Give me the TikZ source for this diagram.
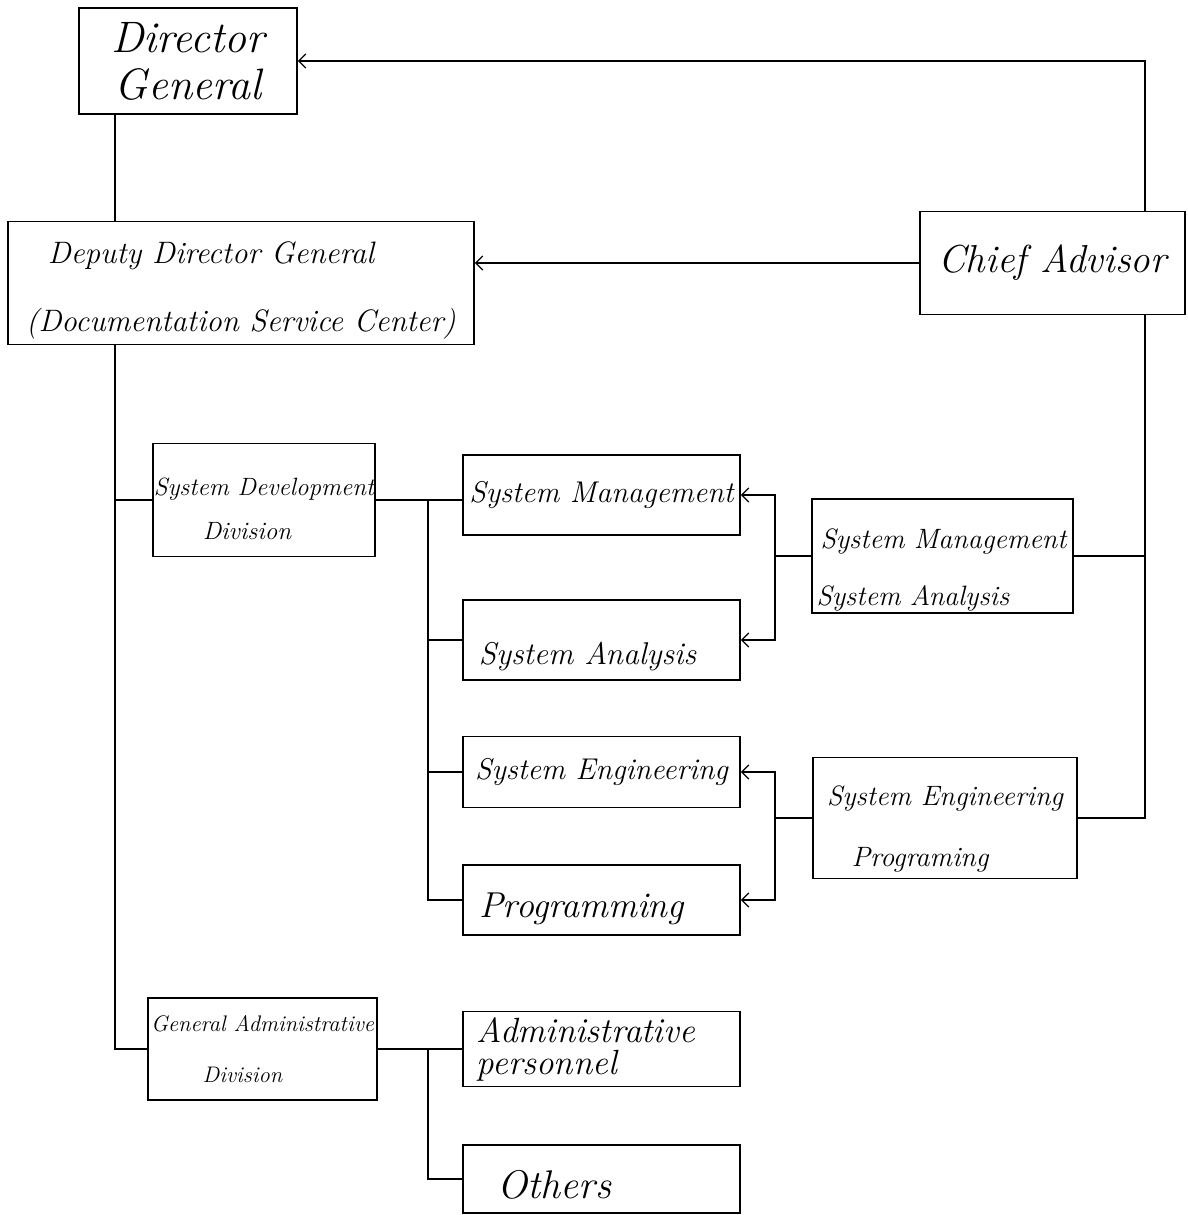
\documentclass[tikz,border=0pt]{standalone}
\usepackage{fontspec}
\setmainfont{Latin Modern Roman}
\usetikzlibrary{arrows.meta,calc}
\newcommand{\lift}[1]{\rule{0pt}{#1}}
\newcommand{\padr}[1]{\hspace*{#1}\mbox{}}
\begin{document}
\begin{tikzpicture}[x=1pt,y=-1pt,
  line width=1.7pt,
  box/.style={draw, rectangle, inner sep=1pt, align=center, font=\itshape},
  arr/.style={-{Straight Barb[length=7pt,width=14pt,line width=1.3pt]}},
  darr/.style={{Straight Barb[length=7pt,width=14pt,line width=1.3pt]}-{Straight Barb[length=7pt,width=14pt,line width=1.3pt]}}]
\useasboundingbox (0,0) rectangle (1188,1215);
% boxes
\node[box, minimum width=218pt, minimum height=106pt, font=\itshape\fontsize{44}{47}\selectfont] (dg) at (188,61) {Director\\General};
\node[box, minimum width=466pt, minimum height=123pt, font=\itshape\fontsize{31}{34}\selectfont] (ddg) at (241,283) {\lift{37pt}Deputy Director General\padr{60pt}\\[34pt](Documentation Service Center)};
\node[box, minimum width=265pt, minimum height=103pt, font=\itshape\fontsize{39}{42}\selectfont] (ca) at (1052.5,263) {Chief Advisor};
\node[box, minimum width=222pt, minimum height=113pt, font=\itshape\fontsize{25}{28}\selectfont] (sdd) at (264,500) {\lift{35pt}System Development\\[16pt]Division\padr{34pt}};
\node[box, minimum width=277pt, minimum height=80pt, font=\itshape\fontsize{30}{34}\selectfont] (sm) at (601.5,495) {System Management};
\node[box, minimum width=277pt, minimum height=80pt, font=\itshape\fontsize{31.5}{34}\selectfont] (sa) at (601.5,640) {\lift{56pt}System Analysis\padr{28pt}};
\node[box, minimum width=277pt, minimum height=71pt, font=\itshape\fontsize{30}{34}\selectfont] (se) at (601.5,772) {System Engineering};
\node[box, minimum width=277pt, minimum height=70pt, font=\itshape\fontsize{36}{38}\selectfont] (prog) at (601.5,900) {\lift{42pt}Programming\padr{40pt}};
\node[box, minimum width=261pt, minimum height=114pt, text width=252pt, align=left, font=\itshape\fontsize{28}{30}\selectfont] (smsa) at (942.5,556) {\lift{48pt}\hspace*{4pt}System Management\\[27pt]System Analysis};
\node[box, minimum width=264pt, minimum height=121pt, font=\itshape\fontsize{28}{30}\selectfont] (sep) at (945,818) {\lift{42pt}System Engineering\\[31pt]Programing\padr{50pt}};
\node[box, minimum width=229pt, minimum height=102pt, inner sep=0pt, font=\itshape\fontsize{22.5}{25}\selectfont] (gad) at (262.5,1049) {General Administrative\\[26pt]Division\padr{40pt}};
\node[box, minimum width=277pt, minimum height=75pt, text width=250pt, align=left, font=\itshape\fontsize{35}{32}\selectfont] (ap) at (601.5,1049) {Administrative\\personnel};
\node[box, minimum width=277pt, minimum height=68pt, font=\itshape\fontsize{40}{42}\selectfont] (oth) at (601.5,1179) {\lift{40pt}Others\padr{94pt}};
% bus coordinates
\coordinate (trunk) at (115,0);
\coordinate (rbus) at (1145,0);
\coordinate (bus1) at (428,0);
\coordinate (bus2) at (775,0);
\coordinate (bus3) at (428,0);
% connectors
\draw (dg.south -| trunk) -- (ddg.north -| trunk);
\draw[arr] (ca.north -| rbus) |- (dg.east);
\draw[arr] (ca.west) -- (ca.west -| ddg.east);
\draw (ddg.south -| trunk) |- (gad.west);
\draw (sdd.west -| trunk) -- (sdd.west);
\draw (sdd.east) -- (sdd.east -| sm.west);
\draw (sdd.east -| bus1) |- (prog.west);
\draw (sa.west -| bus1) -- (sa.west);
\draw (se.west -| bus1) -- (se.west);
\draw (ca.south -| rbus) |- (sep.east);
\draw (smsa.east) -- (smsa.east -| rbus);
\draw (smsa.west) -- (smsa.west -| bus2);
\draw[darr] (sm.east) -- (sm.east -| bus2) -- (sa.east -| bus2) -- (sa.east);
\draw (sep.west) -- (sep.west -| bus2);
\draw[darr] (se.east) -- (se.east -| bus2) -- (prog.east -| bus2) -- (prog.east);
\draw (gad.east) -- (ap.west);
\draw (gad.east -| bus3) |- (oth.west);
\end{tikzpicture}
\end{document}
